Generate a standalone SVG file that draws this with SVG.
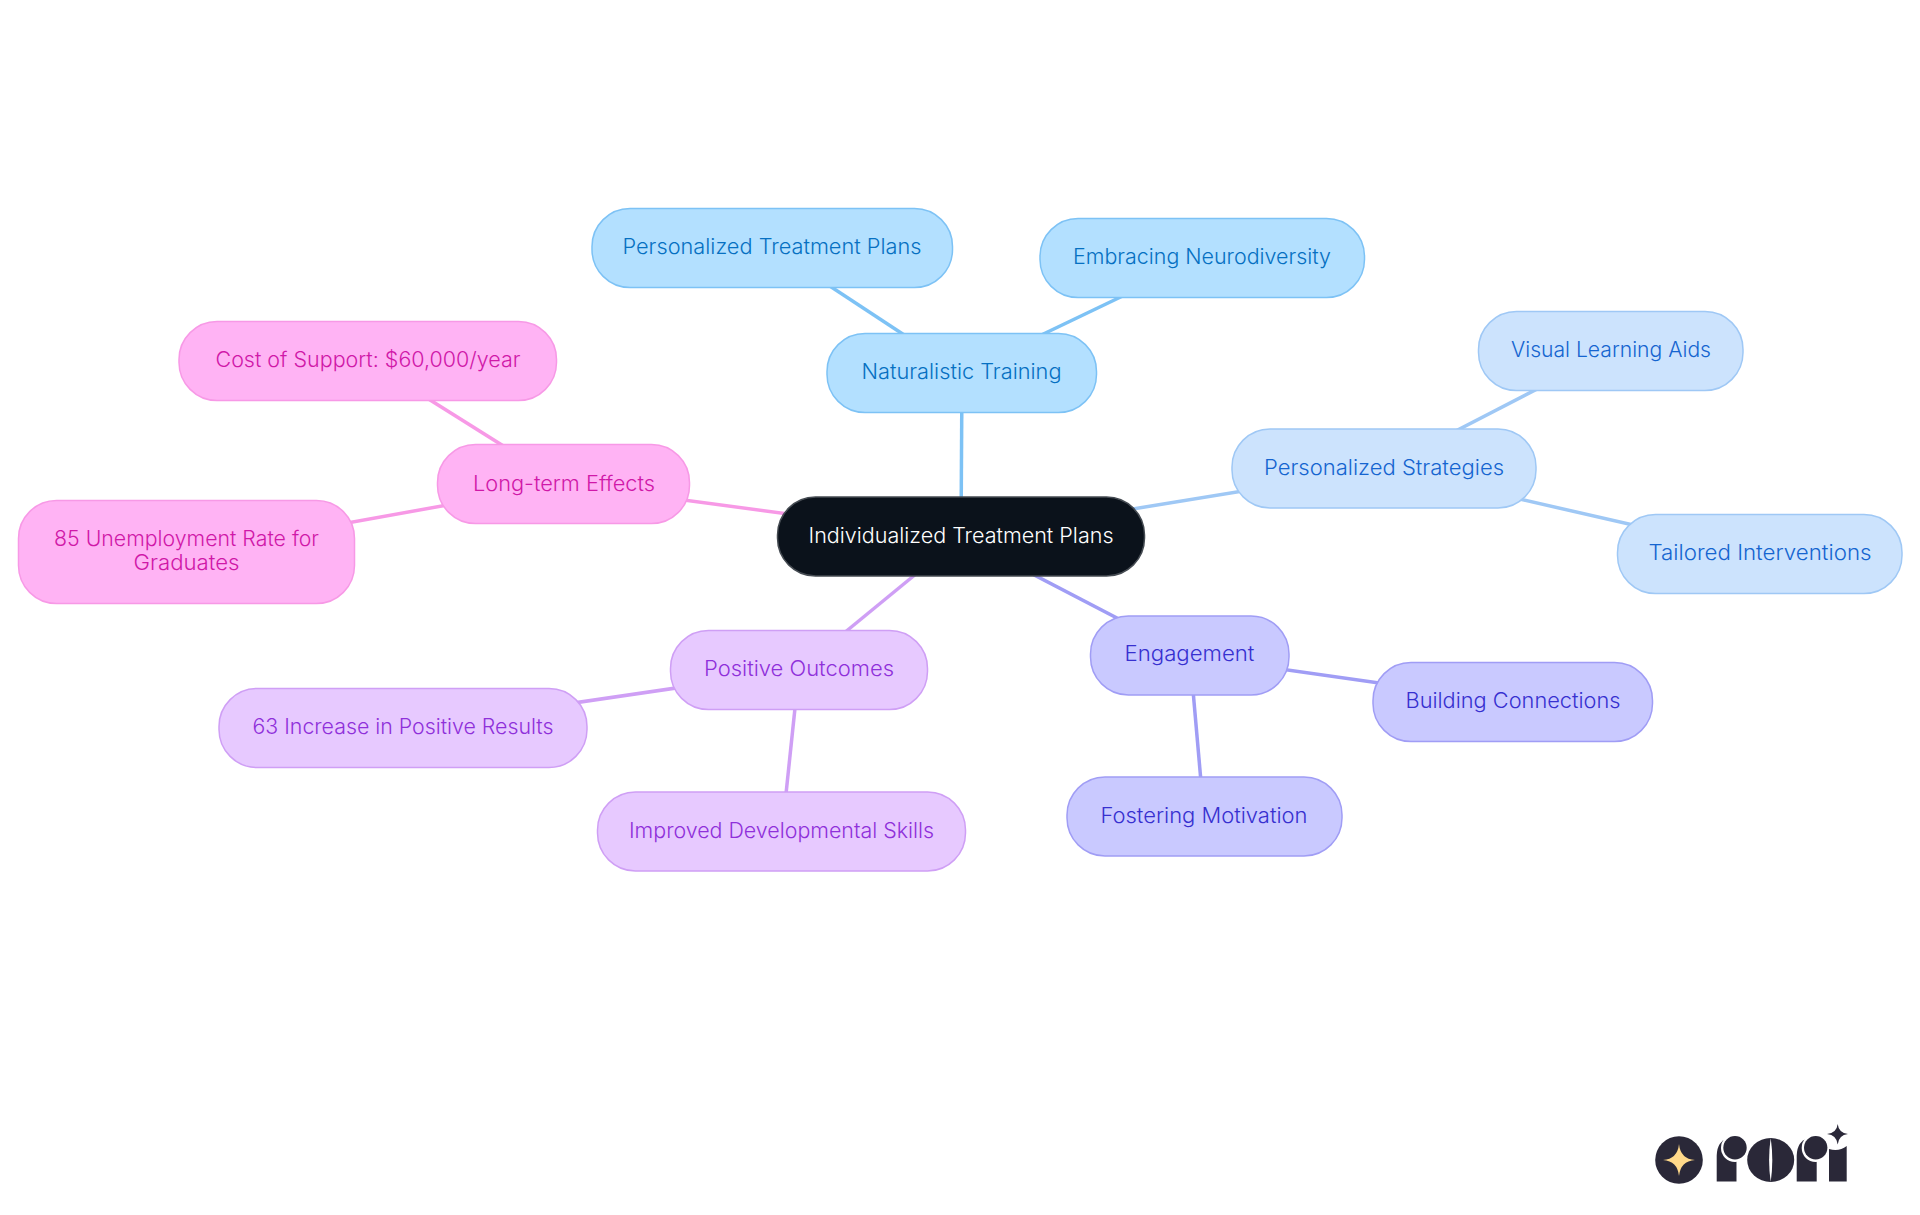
<svg xmlns="http://www.w3.org/2000/svg" width="1920" height="1215" viewBox="0 0 1920 1215">
<style>
text{font-family:"Inter","Noto Sans","Liberation Sans",sans-serif;font-size:21px;font-weight:350;text-anchor:middle}
.n rect{stroke-width:1.5}
#connectors line{stroke-width:3.5;fill:none}
.c0 rect{fill:#0b121b;stroke:#454b52}.c0 text{fill:#fff}
.c1 rect{fill:#b3e0ff;stroke:#7dc2f5}.c1 text{fill:#0670c2}
.c2 rect{fill:#cce3fd;stroke:#9fc8f5}.c2 text{fill:#1565d0}
.c3 rect{fill:#c9c9ff;stroke:#a09df5}.c3 text{fill:#3730d0}
.c4 rect{fill:#e7c9ff;stroke:#cf9ff5}.c4 text{fill:#8f30da}
.c5 rect{fill:#ffb3f4;stroke:#f799e6}.c5 text{fill:#d018a8}
.l1{stroke:#7dc2f5}.l2{stroke:#9fc8f5}.l3{stroke:#a09df5}.l4{stroke:#cf9ff5}.l5{stroke:#f799e6}
.d{fill:#2a2838}.w{fill:#fff}
</style>
<g id="connectors">
<line class="l1" x1="961" y1="537" x2="962" y2="373"/>
<line class="l1" x1="962" y1="373" x2="772" y2="248"/>
<line class="l1" x1="962" y1="373" x2="1202" y2="258"/>
<line class="l2" x1="961" y1="537" x2="1384" y2="468"/>
<line class="l2" x1="1384" y1="468" x2="1611" y2="351"/>
<line class="l2" x1="1384" y1="468" x2="1760" y2="554"/>
<line class="l3" x1="961" y1="537" x2="1190" y2="656"/>
<line class="l3" x1="1190" y1="656" x2="1513" y2="702"/>
<line class="l3" x1="1190" y1="656" x2="1204" y2="816"/>
<line class="l4" x1="961" y1="537" x2="799" y2="670"/>
<line class="l4" x1="799" y1="670" x2="403" y2="728"/>
<line class="l4" x1="799" y1="670" x2="782" y2="832"/>
<line class="l5" x1="961" y1="537" x2="564" y2="484"/>
<line class="l5" x1="564" y1="484" x2="368" y2="361"/>
<line class="l5" x1="564" y1="484" x2="186" y2="552"/>
</g>
<g id="root" class="n c0"><rect x="777.500" y="497" width="367" height="79" rx="38"/><text x="961" y="542.500" textLength="305" lengthAdjust="spacingAndGlyphs">Individualized Treatment Plans</text></g>
<g id="naturalistic" class="n c1"><rect x="827" y="333.500" width="269.500" height="79" rx="38"/><text x="961.500" y="378.500" textLength="200" lengthAdjust="spacingAndGlyphs">Naturalistic Training</text></g>
<g id="treatment" class="n c1"><rect x="592" y="208.500" width="360.500" height="79" rx="38"/><text x="772" y="253.500" textLength="299" lengthAdjust="spacingAndGlyphs">Personalized Treatment Plans</text></g>
<g id="neurodiversity" class="n c1"><rect x="1040" y="218.500" width="324.500" height="79" rx="38"/><text x="1202" y="263.500" textLength="258" lengthAdjust="spacingAndGlyphs">Embracing Neurodiversity</text></g>
<g id="strategies" class="n c2"><rect x="1232" y="429" width="304" height="79" rx="38"/><text x="1384" y="475" textLength="240" lengthAdjust="spacingAndGlyphs">Personalized Strategies</text></g>
<g id="visual" class="n c2"><rect x="1478.500" y="311.500" width="264.500" height="79" rx="38"/><text x="1611" y="357" textLength="200" lengthAdjust="spacingAndGlyphs">Visual Learning Aids</text></g>
<g id="tailored" class="n c2"><rect x="1617.500" y="514.500" width="284.500" height="79" rx="38"/><text x="1760" y="560" textLength="223" lengthAdjust="spacingAndGlyphs">Tailored Interventions</text></g>
<g id="engagement" class="n c3"><rect x="1090.500" y="616" width="198.500" height="79" rx="38"/><text x="1189.500" y="661" textLength="130" lengthAdjust="spacingAndGlyphs">Engagement</text></g>
<g id="connections" class="n c3"><rect x="1373" y="662.500" width="279.500" height="79" rx="38"/><text x="1513" y="708" textLength="215" lengthAdjust="spacingAndGlyphs">Building Connections</text></g>
<g id="motivation" class="n c3"><rect x="1067" y="777" width="275" height="79" rx="38"/><text x="1204" y="822.500" textLength="207" lengthAdjust="spacingAndGlyphs">Fostering Motivation</text></g>
<g id="outcomes" class="n c4"><rect x="670.500" y="630.500" width="257" height="79" rx="38"/><text x="799" y="676" textLength="190" lengthAdjust="spacingAndGlyphs">Positive Outcomes</text></g>
<g id="results" class="n c4"><rect x="219" y="688.500" width="368" height="79" rx="38"/><text x="403" y="733.500" textLength="301" lengthAdjust="spacingAndGlyphs">63 Increase in Positive Results</text></g>
<g id="skills" class="n c4"><rect x="597.500" y="792" width="368" height="79" rx="38"/><text x="781.500" y="837.500" textLength="305" lengthAdjust="spacingAndGlyphs">Improved Developmental Skills</text></g>
<g id="longterm" class="n c5"><rect x="437.500" y="444.500" width="252" height="79" rx="38"/><text x="564" y="490.500" textLength="182" lengthAdjust="spacingAndGlyphs">Long-term Effects</text></g>
<g id="cost" class="n c5"><rect x="179" y="321.500" width="377.500" height="79" rx="38"/><text x="368" y="367" textLength="305" lengthAdjust="spacingAndGlyphs">Cost of Support: $60,000/year</text></g>
<g id="unemployment" class="n c5"><rect x="18.500" y="500.500" width="336" height="103" rx="38"/><text x="186.500" y="546" textLength="265" lengthAdjust="spacingAndGlyphs">85 Unemployment Rate for</text><text x="186.500" y="569.500" textLength="106" lengthAdjust="spacingAndGlyphs">Graduates</text></g>
<g id="logo">
<circle class="d" cx="1679" cy="1160" r="23.800"/>
<path fill="#ffd98a" d="M1679 1144Q1680.500 1159 1695 1160Q1680.500 1161 1679 1176Q1677.500 1161 1663 1160Q1677.500 1159 1679 1144Z"/>
<path class="d" d="M1716.700 1181.500V1156Q1716.700 1141 1729 1138L1736.700 1138V1181.500Z"/>
<circle class="w" cx="1735" cy="1148" r="14"/><circle class="d" cx="1735" cy="1147.700" r="11.700"/>
<path class="w" d="M1736.700 1162h3v20h-3z"/>
<ellipse class="d" cx="1770.700" cy="1160" rx="23.500" ry="22"/>
<path class="w" d="M1770.700 1138Q1767.500 1160 1770.700 1182Q1773.900 1160 1770.700 1138Z"/>
<path class="d" d="M1796.700 1181.500V1156Q1796.700 1141 1809 1138L1816.700 1138V1181.500Z"/>
<circle class="w" cx="1815.700" cy="1148" r="14"/><circle class="d" cx="1815.700" cy="1147.700" r="11.700"/>
<path class="d" d="M1829 1181.500V1149Q1839 1152 1846.700 1146V1181.500Z"/>
<path class="d" d="M1837.700 1124Q1838.700 1133 1848 1134Q1838.700 1135 1837.700 1144.500Q1836.700 1135 1827 1134Q1836.700 1133 1837.700 1124Z"/>
</g>
</svg>
